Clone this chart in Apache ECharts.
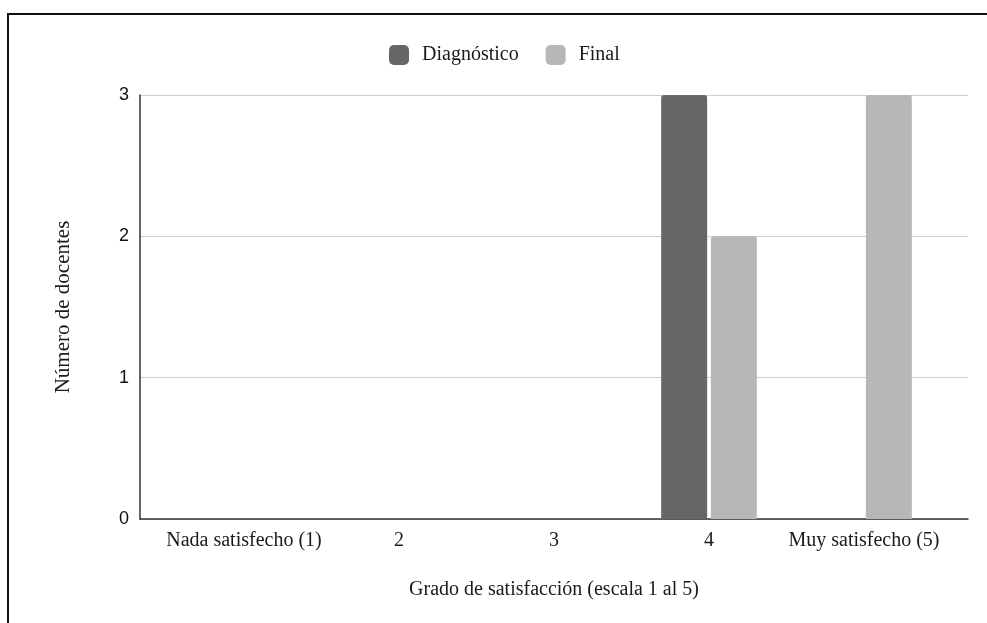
<!DOCTYPE html>
<html>
<head>
<meta charset="utf-8">
<script src="https://cdn.jsdelivr.net/npm/echarts@6/dist/echarts.min.js"></script>
<style>html,body{margin:0;padding:0;background:#fff}#c{width:987px;height:623px}</style>
</head>
<body>
<div id="c"></div>
<script>
var categories = ['Nada satisfecho (1)', '2', '3', '4', 'Muy satisfecho (5)'];
var categoryPositions = [1, 2, 3, 4, 5];
var diagnostico = [0, 0, 0, 3, 0];
var finalVals = [0, 0, 0, 2, 3];
var yTicks = [0, 1, 2, 3];
var seriesNames = ['Diagnóstico', 'Final'];

var serif = '"Liberation Serif", "DejaVu Serif", serif';
var sans = '"Liberation Sans", Arial, sans-serif';

function pairs(vals) {
  return vals.map(function (v, i) { return [categoryPositions[i], v]; });
}

var chart = echarts.init(document.getElementById('c'), null, {renderer: 'canvas'});
chart.setOption({
  animation: false,
  backgroundColor: '#fff',
  graphic: [{
    type: 'rect', silent: true,
    shape: {x: 8, y: 14, width: 1100, height: 700},
    style: {fill: 'none', stroke: '#111', lineWidth: 2}
  }],
  legend: {
    top: 40, left: 384,
    itemWidth: 20, itemHeight: 20, itemGap: 27,
    icon: 'roundRect',
    textStyle: {fontFamily: serif, fontSize: 20, color: '#1a1a1a', padding: [0, 0, 0, 8]},
    data: seriesNames
  },
  grid: {left: 140, right: 19, top: 95, bottom: 104, containLabel: false},
  xAxis: {
    type: 'value',
    min: 0.329, max: 5.671,
    name: 'Grado de satisfacción (escala 1 al 5)',
    nameLocation: 'middle', nameGap: 61,
    nameTextStyle: {fontFamily: serif, fontSize: 20, color: '#1a1a1a'},
    axisLine: {show: true, lineStyle: {color: '#333', width: 1.5}},
    axisTick: {show: false},
    splitLine: {show: false},
    axisLabel: {
      customValues: categoryPositions,
      formatter: function (v) { return categories[Math.round(v) - 1]; },
      fontFamily: serif, fontSize: 20, color: '#1a1a1a', margin: 12
    }
  },
  yAxis: {
    type: 'value', min: 0, max: 3, interval: 1,
    name: 'Número de docentes',
    nameLocation: 'middle', nameGap: 66, nameRotate: 90,
    nameTextStyle: {fontFamily: serif, fontSize: 21, color: '#1a1a1a'},
    axisLine: {show: true, lineStyle: {color: '#333', width: 1.5}},
    axisTick: {show: false},
    splitLine: {show: true, lineStyle: {color: '#cfcfcf', width: 1}},
    axisLabel: {fontFamily: sans, fontSize: 18, color: '#111', margin: 11,
      formatter: function (v) { return String(v); }}
  },
  series: [{
    name: seriesNames[0], type: 'bar', data: pairs(diagnostico),
    barWidth: 46, barGap: '8%',
    itemStyle: {color: '#666666', borderRadius: [3, 3, 0, 0]}
  }, {
    name: seriesNames[1], type: 'bar', data: pairs(finalVals),
    barWidth: 46, barGap: '8%',
    itemStyle: {color: '#b7b7b7', borderRadius: [3, 3, 0, 0]}
  }]
});
</script>
</body>
</html>
